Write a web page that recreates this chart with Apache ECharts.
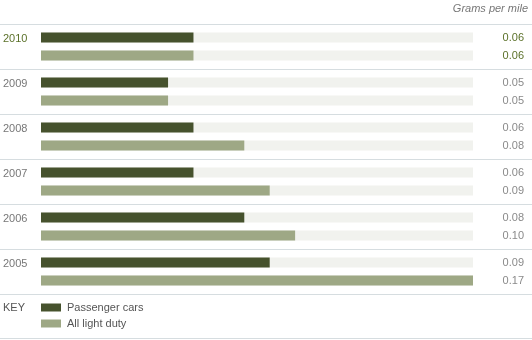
<!DOCTYPE html>
<html>
<head>
<meta charset="utf-8">
<script src="https://cdn.jsdelivr.net/npm/echarts@6/dist/echarts.min.js"></script>
<style>html,body{margin:0;padding:0;background:#fff}#c{width:532px;height:340px}</style>
</head>
<body>
<div id="c"></div>
<script>
var years = ['2010', '2009', '2008', '2007', '2006', '2005'];
var passengerCars = [0.06, 0.05, 0.06, 0.06, 0.08, 0.09];
var allLightDuty = [0.06, 0.05, 0.08, 0.09, 0.10, 0.17];
var seriesNames = ['Passenger cars', 'All light duty'];
var unitLabel = 'Grams per mile';
var keyLabel = 'KEY';

var FONT = '"Liberation Sans", Arial, sans-serif';
var GREEN = '#5b7129';
var GRAY = '#8a8a8a';
var DARK = '#46522d';
var LIGHT = '#9ea885';
var TRACK = '#f1f2ee';
var SEP = '#d6dde0';

var gridTop = 24, rowH = 45, gridLeft = 41, gridW = 432;

function mkData(arr) {
  return arr.map(function (v, i) {
    var d = { value: v };
    if (i === 0) d.label = { color: GREEN };
    return d;
  });
}

function mkSeries(name, arr, color) {
  return {
    name: name,
    type: 'bar',
    data: mkData(arr),
    barWidth: 10,
    barGap: '80%',
    itemStyle: { color: color },
    showBackground: true,
    backgroundStyle: { color: TRACK },
    silent: true,
    label: {
      show: true,
      position: [483, 5],
      align: 'right',
      verticalAlign: 'middle',
      color: GRAY,
      fontFamily: FONT,
      fontSize: 11,
      formatter: function (p) { return p.value.toFixed(2); }
    }
  };
}

var graphics = [];
for (var i = 0; i <= years.length; i++) {
  graphics.push({
    type: 'line', silent: true,
    shape: { x1: 0, y1: gridTop + i * rowH + 0.5, x2: 532, y2: gridTop + i * rowH + 0.5 },
    style: { stroke: SEP, lineWidth: 1 }
  });
}
graphics.push({
  type: 'line', silent: true,
  shape: { x1: 0, y1: 338.5, x2: 532, y2: 338.5 },
  style: { stroke: SEP, lineWidth: 1 }
});
graphics.push({
  type: 'text', left: 3, top: 302,
  style: { text: keyLabel, fill: '#555', font: '11px ' + FONT }
});
graphics.push({
  type: 'text', right: 4, top: 3,
  style: { text: unitLabel, fill: '#777', font: 'italic 11px ' + FONT }
});

var chart = echarts.init(document.getElementById('c'), null, { renderer: 'canvas' });
chart.setOption({
  animation: false,
  backgroundColor: '#fff',
  textStyle: { fontFamily: FONT },
  grid: { left: gridLeft, top: gridTop, width: gridW, height: rowH * years.length, containLabel: false },
  xAxis: {
    type: 'value', min: 0, max: 0.17,
    show: false
  },
  yAxis: {
    type: 'category', data: years, inverse: true,
    axisLine: { show: false }, axisTick: { show: false }, splitLine: { show: false },
    axisLabel: {
      align: 'left', margin: 38,
      fontFamily: FONT, fontSize: 11,
      verticalAlign: 'bottom', lineHeight: 16,
      color: function (v, idx) { return v === years[0] ? GREEN : '#777'; }
    }
  },
  legend: {
    orient: 'vertical', left: 41, top: 302, height: 38, padding: 0,
    itemWidth: 20, itemHeight: 8, itemGap: 5,
    icon: 'rect', selectedMode: false,
    textStyle: { color: '#555', fontFamily: FONT, fontSize: 11, padding: [0, 0, 0, 1] },
    data: seriesNames
  },
  graphic: graphics,
  series: [
    mkSeries(seriesNames[0], passengerCars, DARK),
    mkSeries(seriesNames[1], allLightDuty, LIGHT)
  ]
});
</script>
</body>
</html>
